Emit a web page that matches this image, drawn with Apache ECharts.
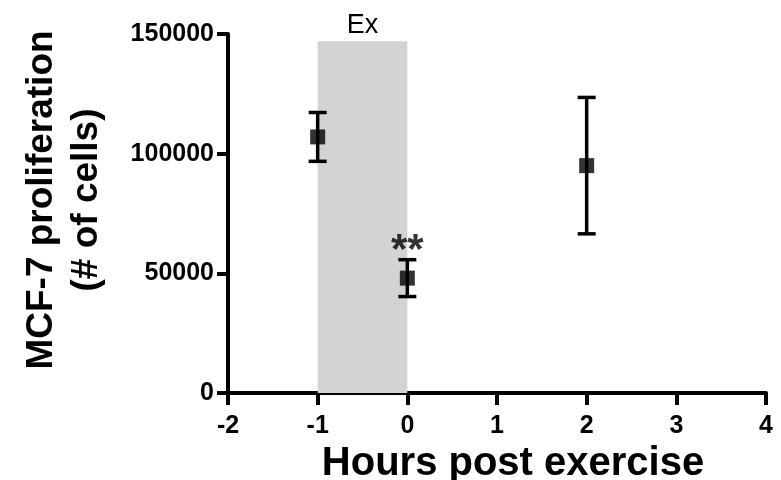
<!DOCTYPE html>
<html>
<head>
<meta charset="utf-8">
<script src="https://cdn.jsdelivr.net/npm/echarts@6/dist/echarts.min.js"></script>
<style>
  html, body { margin: 0; padding: 0; background: #fff; }
  #chart { width: 781px; height: 480px; }
</style>
</head>
<body>
<div id="chart"></div>
<script>
// data
const hours = [-1, 0, 2]
const cells = [107000, 48000, 95000]
const cellsSem = [10200, 7700, 28500]
const marks = ['', '**', '']
const xTicks = [-2, -1, 0, 1, 2, 3, 4]
const yTicks = [0, 50000, 100000, 150000]
const exWindow = [-1, 0]
const exTop = 147000

const font = 'Liberation Sans, Arial, sans-serif'
const chart = echarts.init(document.getElementById('chart'))

const option = {
  animation: false,
  grid: { left: 228, right: 15, top: 34, bottom: 87, containLabel: false, outerBoundsMode: 'none' },
  xAxis: {
    type: 'value',
    min: xTicks[0],
    max: xTicks[xTicks.length - 1],
    interval: 1,
    splitLine: { show: false },
    axisLine: { onZero: false, lineStyle: { color: '#000', width: 4 } },
    axisTick: { show: true, inside: false, length: 12, lineStyle: { color: '#000', width: 4 } },
    axisLabel: { color: '#000', fontWeight: 'bold', fontSize: 25, fontFamily: font, margin: 21 },
    name: 'Hours post exercise',
    nameLocation: 'middle',
    nameGap: 45,
    nameTextStyle: { color: '#000', fontWeight: 'bold', fontSize: 40, fontFamily: font, padding: [0, 0, 0, 32] }
  },
  yAxis: {
    type: 'value',
    min: yTicks[0],
    max: yTicks[yTicks.length - 1],
    interval: 50000,
    splitLine: { show: false },
    axisLine: { show: true, onZero: false, lineStyle: { color: '#000', width: 4 } },
    axisTick: { show: true, inside: false, length: 11, lineStyle: { color: '#000', width: 4 } },
    axisLabel: {
      color: '#000', fontWeight: 'bold', fontSize: 25, fontFamily: font, margin: 14,
      formatter: v => String(v)
    }
  },
  graphic: [{
    type: 'text',
    x: 64,
    y: 200,
    rotation: Math.PI / 2,
    style: {
      text: 'MCF-7 proliferation\n(# of cells)',
      fill: '#000',
      font: 'bold 37px ' + font,
      lineHeight: 45,
      align: 'center',
      verticalAlign: 'middle'
    }
  }],
  series: [
    {
      type: 'custom',
      z: 3,
      data: hours.map((h, i) => [h, cells[i] - cellsSem[i], cells[i] + cellsSem[i]]),
      renderItem: function (params, api) {
        const lo = api.coord([api.value(0), api.value(1)])
        const hi = api.coord([api.value(0), api.value(2)])
        const cap = 9
        const st = { stroke: '#000', lineWidth: 3.5 }
        return {
          type: 'group',
          children: [
            { type: 'line', shape: { x1: lo[0], y1: lo[1], x2: hi[0], y2: hi[1] }, style: st },
            { type: 'line', shape: { x1: lo[0] - cap, y1: lo[1], x2: lo[0] + cap, y2: lo[1] }, style: st },
            { type: 'line', shape: { x1: hi[0] - cap, y1: hi[1], x2: hi[0] + cap, y2: hi[1] }, style: st }
          ]
        }
      }
    },
    {
      type: 'scatter',
      z: 4,
      symbol: 'rect',
      symbolSize: 15,
      itemStyle: { color: '#000' },
      data: hours.map((h, i) => ({
        value: [h, cells[i]],
        label: {
          show: marks[i] !== '',
          formatter: marks[i],
          position: 'top',
          distance: -2,
          color: '#000',
          fontSize: 42,
          fontWeight: 'bold',
          fontFamily: font
        }
      })),
      markArea: {
        silent: true,
        itemStyle: { color: '#d3d3d3' },
        label: {
          show: true,
          position: 'top',
          distance: 2,
          color: '#000',
          fontSize: 27,
          fontFamily: font
        },
        data: [[
          { name: 'Ex', xAxis: exWindow[0], yAxis: 0 },
          { xAxis: exWindow[1], yAxis: exTop }
        ]]
      }
    }
  ]
}

chart.setOption(option)
</script>
</body>
</html>
